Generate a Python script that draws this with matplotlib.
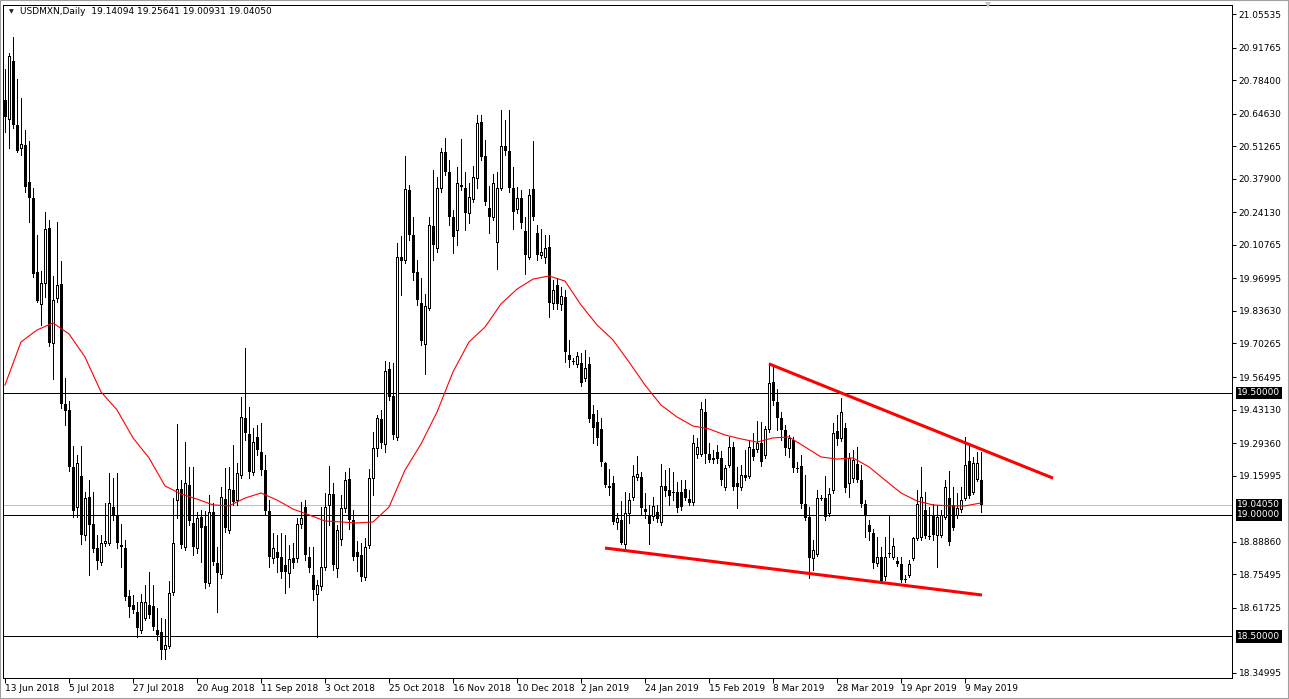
import matplotlib
matplotlib.use("Agg")
import matplotlib.pyplot as plt
import matplotlib.transforms as mtransforms
from matplotlib.patches import Rectangle
import numpy as np

plt.rcParams['font.family'] = ['DejaVu Sans']
plt.rcParams['font.size'] = 6.5

symbol_title = "USDMXN,Daily"
last_ohlc = [19.14094, 19.25641, 19.00931, 19.04050]

opens = [
20.702,20.624,20.862,20.600,20.505,20.518,20.366,20.300,19.996,19.865,
19.951,20.177,19.705,19.889,19.947,19.454,19.430,19.196,19.031,19.159,
18.917,19.073,18.962,18.863,18.806,18.884,18.884,19.031,18.999,18.875,
18.863,18.666,18.629,18.600,18.527,18.576,18.629,18.625,18.527,18.518,
18.449,18.461,18.682,19.060,19.105,18.867,19.122,18.966,18.863,18.990,
18.954,18.719,19.011,18.802,18.757,19.064,18.937,19.101,19.060,19.163,
19.397,19.331,19.175,19.319,19.257,19.183,19.015,18.822,18.847,18.826,
18.793,18.761,18.822,18.822,18.962,19.031,18.826,18.752,18.674,18.707,
18.786,19.040,19.085,18.781,18.900,19.027,19.146,18.978,18.847,18.834,
18.744,18.875,19.150,19.273,19.393,19.290,19.598,19.487,19.319,20.058,
20.045,20.333,20.148,19.996,19.869,19.701,19.848,20.185,20.095,20.341,
20.489,20.407,20.222,20.169,20.353,20.341,20.238,20.296,20.382,20.612,
20.472,20.259,20.222,20.119,20.341,20.513,20.493,20.341,20.255,20.300,
20.164,20.058,20.337,20.156,20.066,20.058,20.099,19.869,19.943,19.865,
19.894,19.655,19.631,19.619,19.623,19.561,19.619,19.413,19.380,19.352,
19.212,19.118,19.130,18.970,18.978,18.880,19.007,19.073,19.155,19.155,
19.023,18.999,18.995,19.011,18.970,19.118,19.101,19.093,19.093,19.093,
19.105,19.064,19.052,19.249,19.249,19.421,19.249,19.233,19.257,19.233,
19.114,19.204,19.278,19.130,19.114,19.163,19.159,19.269,19.269,19.294,
19.245,19.352,19.545,19.463,19.397,19.348,19.274,19.306,19.192,19.200,
19.044,18.990,18.822,18.839,19.068,19.068,19.007,19.101,19.343,19.315,
19.356,19.130,19.150,19.208,19.142,19.044,18.958,18.925,18.802,18.826,
18.748,18.843,18.826,18.810,18.798,18.736,18.752,18.822,18.904,18.908,
19.019,18.912,18.999,18.917,18.917,18.990,19.068,19.040,18.999,19.023,
19.068,19.220,19.093,19.146,19.14094]

highs = [
20.829,20.895,20.961,20.788,20.711,20.579,20.534,20.341,20.148,20.000,
20.242,20.210,19.980,20.201,20.041,19.561,19.467,19.282,19.245,19.282,
19.093,19.142,19.093,18.917,18.917,19.048,19.171,19.150,19.171,18.962,
18.896,18.691,18.670,18.641,18.674,18.711,18.765,18.711,18.617,18.576,
18.572,18.728,19.068,19.372,19.142,19.298,19.196,19.196,19.011,19.019,
19.015,19.081,19.048,18.867,19.114,19.192,19.196,19.286,19.212,19.483,
19.684,19.442,19.356,19.368,19.376,19.245,19.060,18.925,18.917,18.925,
18.917,18.875,18.884,18.986,19.052,19.060,18.867,18.867,18.732,19.031,
19.089,19.200,19.130,18.958,19.081,19.175,19.192,19.019,18.892,18.884,
18.904,19.187,19.339,19.409,19.430,19.631,19.627,19.623,20.115,20.144,
20.472,20.353,20.222,20.045,19.971,19.906,20.222,20.415,20.386,20.505,
20.546,20.456,20.251,20.427,20.542,20.407,20.362,20.431,20.641,20.641,
20.538,20.349,20.398,20.407,20.661,20.620,20.661,20.427,20.345,20.333,
20.222,20.337,20.534,20.189,20.173,20.148,20.148,19.963,19.971,19.935,
19.922,19.717,19.643,19.668,19.664,19.676,19.647,19.450,19.430,19.397,
19.216,19.187,19.159,19.007,19.056,19.093,19.089,19.204,19.241,19.175,
19.089,19.040,19.073,19.040,19.208,19.183,19.192,19.175,19.134,19.142,
19.142,19.101,19.327,19.315,19.463,19.475,19.294,19.265,19.286,19.261,
19.204,19.319,19.298,19.196,19.204,19.265,19.306,19.335,19.384,19.380,
19.364,19.623,19.615,19.516,19.421,19.368,19.327,19.319,19.216,19.245,
19.163,19.031,18.896,19.101,19.081,19.159,19.109,19.376,19.409,19.479,
19.376,19.253,19.265,19.278,19.204,19.060,18.978,18.941,18.908,18.867,
18.908,18.999,18.904,18.826,18.826,18.752,18.814,18.908,19.101,19.196,
19.093,19.031,19.044,19.040,19.019,19.142,19.179,19.114,19.089,19.114,
19.319,19.294,19.237,19.257,19.25641]

lows = [
20.571,20.505,20.587,20.489,20.476,20.325,20.201,19.976,19.873,19.779,
19.894,19.692,19.557,19.873,19.438,19.368,19.179,18.990,18.990,18.880,
18.896,18.752,18.847,18.777,18.793,18.871,18.875,18.978,18.863,18.786,
18.650,18.580,18.596,18.498,18.514,18.568,18.576,18.527,18.485,18.407,
18.407,18.453,18.670,18.986,18.863,18.855,18.958,18.834,18.843,18.806,
18.699,18.707,18.793,18.600,18.740,18.929,18.925,19.040,19.040,19.150,
19.306,19.150,19.163,19.245,19.163,18.999,18.786,18.802,18.765,18.740,
18.678,18.703,18.781,18.806,18.945,18.814,18.765,18.650,18.498,18.691,
18.773,18.958,18.773,18.744,18.875,19.011,18.941,18.814,18.769,18.728,
18.732,18.863,19.081,19.241,19.274,19.257,19.471,19.311,19.306,19.902,
20.033,20.128,19.963,19.861,19.697,19.577,19.840,20.045,20.078,20.325,
20.394,20.189,20.074,20.107,20.333,20.169,20.197,20.284,20.341,20.456,
20.271,20.156,20.210,20.008,20.333,20.476,20.325,20.173,20.238,20.177,
19.988,20.050,20.210,20.045,20.054,20.033,19.811,19.844,19.844,19.840,
19.627,19.606,19.619,19.606,19.528,19.549,19.380,19.294,19.286,19.200,
19.114,19.081,18.962,18.941,18.880,18.859,18.966,19.060,19.142,18.999,
18.986,18.880,18.978,18.970,18.958,19.077,19.040,19.060,19.011,19.019,
19.060,19.040,19.040,19.233,19.241,19.212,19.216,19.212,19.212,19.122,
19.101,19.196,19.101,19.027,19.101,19.142,19.150,19.224,19.257,19.200,
19.233,19.339,19.450,19.348,19.306,19.245,19.237,19.175,19.175,19.027,
18.978,18.740,18.773,18.830,19.060,18.978,18.995,19.089,19.286,19.302,
19.093,19.073,19.134,19.134,19.031,18.908,18.896,18.781,18.789,18.719,
18.732,18.826,18.818,18.789,18.724,18.724,18.744,18.814,18.896,18.896,
18.904,18.900,18.896,18.786,18.908,18.982,18.875,18.937,18.986,19.011,
19.060,19.068,19.085,19.138,19.00931]

closes = [
20.633,20.883,20.600,20.493,20.522,20.345,20.300,19.988,19.877,19.951,
20.173,19.705,19.881,19.943,19.454,19.425,19.196,19.015,19.212,18.917,
19.068,18.958,18.859,18.810,18.884,18.892,19.048,18.999,18.884,18.867,
18.662,18.621,18.609,18.535,18.641,18.641,18.588,18.539,18.506,18.444,
18.465,18.678,18.884,19.105,18.875,19.130,18.974,18.867,18.986,18.945,
18.719,19.011,18.806,18.761,19.073,18.945,19.105,19.052,19.171,19.401,
19.335,19.175,19.298,19.265,19.183,19.015,18.826,18.863,18.822,18.765,
18.765,18.818,18.802,18.962,18.986,18.834,18.781,18.691,18.711,18.786,
19.031,19.085,18.793,18.937,19.027,19.142,18.978,18.826,18.826,18.744,
18.867,19.150,19.273,19.397,19.294,19.590,19.483,19.327,20.058,20.041,
20.337,20.148,19.992,19.881,19.713,19.857,20.189,20.107,20.341,20.489,
20.407,20.222,20.140,20.362,20.345,20.238,20.304,20.386,20.608,20.468,
20.284,20.222,20.362,20.341,20.513,20.493,20.341,20.242,20.300,20.197,
20.066,20.312,20.222,20.066,20.078,20.095,19.869,19.922,19.865,19.898,
19.668,19.635,19.627,19.651,19.540,19.602,19.393,19.356,19.315,19.216,
19.122,19.109,18.970,18.986,18.884,19.007,19.060,19.159,19.167,19.027,
19.011,18.962,19.036,18.982,19.118,19.097,19.077,19.089,19.027,19.031,
19.068,19.048,19.294,19.278,19.434,19.249,19.224,19.224,19.228,19.142,
19.192,19.278,19.114,19.114,19.163,19.150,19.278,19.237,19.294,19.216,
19.352,19.540,19.467,19.397,19.348,19.274,19.315,19.192,19.187,19.044,
18.986,18.822,18.855,19.068,19.064,18.990,19.085,19.335,19.311,19.421,
19.109,19.233,19.224,19.142,19.044,18.999,18.929,18.802,18.826,18.728,
18.826,18.839,18.871,18.798,18.732,18.732,18.798,18.904,19.044,19.073,
18.912,18.908,18.917,18.990,18.999,19.114,18.888,18.945,19.027,19.060,
19.204,19.077,19.212,19.212,19.04050]

# moving average (red) read every 4th bar
ma_bars = list(range(0, 245, 4))
ma_values = [
19.532,19.709,19.758,19.787,19.742,19.647,19.504,19.430,19.315,19.233,
19.118,19.085,19.064,19.040,19.036,19.068,19.089,19.060,19.023,18.999,
18.974,18.970,18.966,18.970,19.031,19.183,19.290,19.421,19.586,19.709,
19.770,19.865,19.926,19.967,19.980,19.959,19.861,19.779,19.717,19.627,
19.532,19.450,19.401,19.364,19.352,19.327,19.311,19.298,19.315,19.319,
19.278,19.237,19.228,19.233,19.196,19.142,19.089,19.056,19.040,19.036,
19.036,19.048]

# trend lines (bar index, price)
upper_trend_bars = [191, 262]
upper_trend_prices = [19.619, 19.150]
lower_trend_bars = [150, 244.25]
lower_trend_prices = [18.863, 18.670]

# horizontal levels
level_lines = [19.5, 19.0, 18.5]
bid_level = 19.04050

date_tick_bars = list(range(0, 241, 16))
date_labels = ['13 Jun 2018', '5 Jul 2018', '27 Jul 2018', '20 Aug 2018',
               '11 Sep 2018', '3 Oct 2018', '25 Oct 2018', '16 Nov 2018',
               '10 Dec 2018', '2 Jan 2019', '24 Jan 2019', '15 Feb 2019',
               '8 Mar 2019', '28 Mar 2019', '19 Apr 2019', '9 May 2019']

price_ticks = [21.05535, 20.91765, 20.78400, 20.64630, 20.51265, 20.37900,
               20.24130, 20.10765, 19.96995, 19.83630, 19.70265, 19.56495,
               19.43130, 19.29360, 19.15995, 18.88860, 18.75495, 18.61725,
               18.34995]

W, H = 1289, 699
fig = plt.figure(figsize=(W / 100, H / 100), dpi=100, facecolor='white')
left_px, right_px, top_px, bot_px = 3, 1232, 5, 678
ax = fig.add_axes([left_px / W, (H - bot_px) / H,
                   (right_px - left_px) / W, (bot_px - top_px) / H])
ax.set_facecolor('white')

o = np.array(opens); h = np.array(highs); l = np.array(lows); c = np.array(closes)
x = np.arange(len(o))
px = 0.72  # one pixel in points

ax.vlines(x, l, h, color='black', linewidth=px, antialiased=False, zorder=3)
bear = c < o
bull = ~bear
minh = 0.0035
bh = np.maximum(o[bear] - c[bear], minh)
ax.bar(x[bear], bh, bottom=c[bear], width=0.75, color='black',
       linewidth=0, antialiased=False, zorder=4)
wh = np.maximum(c[bull] - o[bull], minh)
ax.bar(x[bull], wh, bottom=o[bull], width=0.5, facecolor='white',
       edgecolor='black', linewidth=px, antialiased=False, zorder=4)

# levels
for lv in level_lines:
    ax.axhline(lv, color='black', linewidth=px, antialiased=False, zorder=2)
ax.axhline(bid_level, color='#C0C0C0', linewidth=px, antialiased=False, zorder=1)

# moving average
ax.plot(ma_bars, ma_values, color='#FF0000', linewidth=0.8, zorder=5)

# trend lines
ax.plot(upper_trend_bars, upper_trend_prices, color='#FF0000', linewidth=2.2,
        solid_capstyle='butt', zorder=6)
ax.plot(lower_trend_bars, lower_trend_prices, color='#FF0000', linewidth=2.2,
        solid_capstyle='butt', zorder=6)

ax.set_xlim(-0.5, 306.75)
ax.set_ylim(18.3294, 21.0923)

# axes styling
for s in ax.spines.values():
    s.set_color('black')
    s.set_linewidth(px)

ax.yaxis.tick_right()
ax.set_yticks(price_ticks)
ax.set_yticklabels(['%.5f' % v for v in price_ticks])
ax.tick_params(axis='y', direction='out', length=3.2, width=px, pad=1.5,
               labelsize=6.5, colors='black')
ax.set_xticks(date_tick_bars)
ax.set_xticklabels(date_labels)
ax.tick_params(axis='x', direction='out', length=3.6, width=px, pad=1.0,
               labelsize=6.5, colors='black')
for lbl in ax.get_xticklabels():
    lbl.set_horizontalalignment('left')

# label boxes on price scale
trans = mtransforms.blended_transform_factory(ax.transAxes, ax.transData)
box_labels = [(19.5, '19.50000'), (19.04050, '19.04050'),
              (19.0, '19.00000'), (18.5, '18.50000')]
for val, txt in box_labels:
    ax.text(1.0042, val, txt, transform=trans, ha='left', va='center',
            color='white', fontsize=6.5, clip_on=False, zorder=10,
            bbox=dict(boxstyle='square,pad=0.18', fc='black', ec='none'))

# header
fig.text(9 / W, 1 - 12 / H, '\u25BC', fontsize=4.5, color='#202020',
         ha='left', va='center')
fig.text(20 / W, 1 - 12 / H,
         symbol_title + '  ' + ' '.join('%.5f' % v for v in last_ohlc),
         fontsize=6.5, color='black', ha='left', va='center')

# small grey shift marker at top
ax.plot([245.75], [21.0923], marker='v', markersize=5, color='#C8C8C8',
        clip_on=False, zorder=10, markeredgewidth=0)

# outer window border
fig.patches.append(Rectangle((0, 0), 1, 1, transform=fig.transFigure,
                             fill=False, edgecolor='#A0A0A0', linewidth=1.5))

fig.savefig('out.png', dpi=100, facecolor='white')
